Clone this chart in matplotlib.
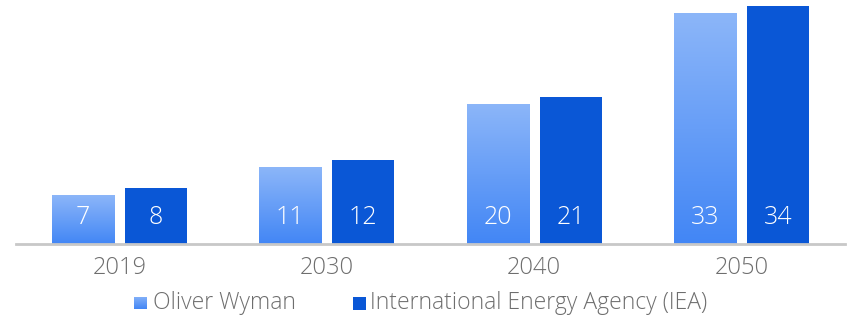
import numpy as np
import matplotlib
matplotlib.use("Agg")
import matplotlib.pyplot as plt
from matplotlib.colors import LinearSegmentedColormap
from matplotlib.patches import Rectangle

years = ["2019", "2030", "2040", "2050"]
oliver_wyman = [7, 11, 20, 33]
iea = [8, 12, 21, 34]
series_names = ["Oliver Wyman", "International Energy Agency (IEA)"]

plt.rcParams["font.family"] = ["Open Sans", "DejaVu Sans"]

light_top = "#8cb6f9"
light_bottom = "#4286f5"
dark = "#0a57d6"
text_gray = "#6e6e6e"
grad = LinearSegmentedColormap.from_list("ow", [light_bottom, light_top])

fig = plt.figure(figsize=(8.5, 3.21), dpi=100)
ax = fig.add_axes([16 / 850, 77 / 321, 829 / 850, 244 / 321])

x = np.arange(len(years))
width = 0.3
offset = 0.176
ymax = 244 / 7.0

grad_img = np.linspace(0, 1, 256).reshape(-1, 1)
for xi, v in zip(x, oliver_wyman):
    left = xi - offset - width / 2
    rect = Rectangle((left, 0), width, v, facecolor="none", edgecolor="none")
    ax.add_patch(rect)
    im = ax.imshow(grad_img, cmap=grad, origin="lower", aspect="auto",
                   extent=(left, left + width, 0, v), zorder=2)
    im.set_clip_path(rect)

ax.bar(x + offset, iea, width, color=dark, zorder=2)

label_y = 3.85
for xi, v in zip(x, oliver_wyman):
    ax.text(xi - offset, label_y, str(v), ha="center", va="center",
            color="white", fontsize=18, fontweight="light", zorder=3)
for xi, v in zip(x, iea):
    ax.text(xi + offset, label_y, str(v), ha="center", va="center",
            color="white", fontsize=18, fontweight="light", zorder=3)

ax.set_xlim(-0.5, len(years) - 0.5)
ax.set_ylim(0, ymax)
ax.set_xticks(x)
ax.set_xticklabels(years, fontsize=17, color=text_gray, fontweight="light")
ax.tick_params(axis="x", length=0, pad=9)
ax.set_yticks([])
for s in ["top", "right", "left"]:
    ax.spines[s].set_visible(False)
ax.spines["bottom"].set_color("#c8c8c8")
ax.spines["bottom"].set_linewidth(2)
ax.spines["bottom"].set_zorder(4)

# legend with a gradient swatch for the first series
sq = 13 / 850
sq_h = 13 / 321
ly = 303 / 321
lax = fig.add_axes([134 / 850, 1 - ly - sq_h / 2, sq, sq_h])
lax.imshow(grad_img, cmap=grad, origin="lower", aspect="auto")
lax.set_axis_off()
fig.text(153 / 850, 1 - ly, series_names[0], ha="left", va="center",
         fontsize=16.5, color=text_gray, fontweight="light")
fig.patches.append(Rectangle((353 / 850, 1 - ly - sq_h / 2), sq, sq_h,
                             transform=fig.transFigure, facecolor=dark,
                             edgecolor="none"))
fig.text(370 / 850, 1 - ly, series_names[1], ha="left", va="center",
         fontsize=16.5, color=text_gray, fontweight="light")

fig.savefig("out.png", dpi=100)
